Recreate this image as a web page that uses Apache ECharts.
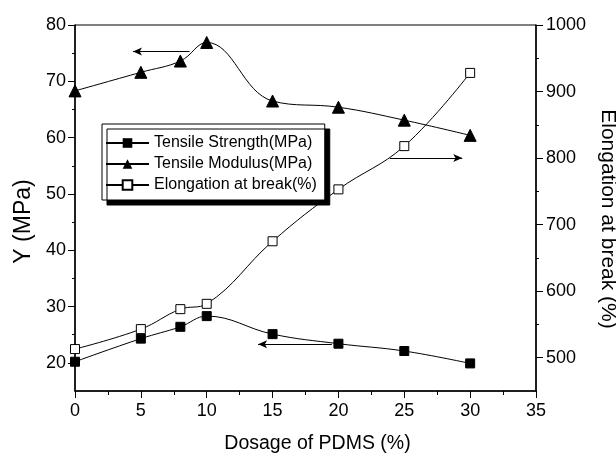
<!DOCTYPE html>
<html>
<head>
<meta charset="utf-8">
<script src="https://cdn.jsdelivr.net/npm/echarts@6/dist/echarts.min.js"></script>
<style>html,body{margin:0;padding:0;background:#fff}#c{width:616px;height:457px}</style>
</head>
<body>
<div id="c"></div>
<script>
const dosage = [0, 5, 8, 10, 15, 20, 25, 30];
const tensileStrength = [20.2, 24.3, 26.4, 28.3, 25.1, 23.4, 22.1, 19.9];
const tensileModulus = [68.3, 71.6, 73.6, 76.9, 66.5, 65.4, 63.1, 60.4];
const elongation = [513, 543, 573, 581, 675, 753, 818, 928];
const leftMajor = [20, 30, 40, 50, 60, 70, 80];
const leftMinor = [25, 35, 45, 55, 65, 75];
const rightMajor = [500, 600, 700, 800, 900, 1000];
const rightMinor = [550, 650, 750, 850, 950];
const seriesNames = ['Tensile Strength(MPa)', 'Tensile Modulus(MPa)', 'Elongation at break(%)'];
// annotation arrows [x1,y1] -> [x2,y2] (arrow head at second point)
const arrowModulus = [[8.7, 75.3], [4.4, 75.3]];
const arrowStrength = [[19.5, 23.3], [13.9, 23.3]];
const arrowElong = [[23.9, 800], [29.4, 800]];

const FONT = 'Liberation Sans, Arial, sans-serif';
const pair = a => a.map((v, i) => [dosage[i], v]);
const arrow = p => ({
  silent: true, symbol: ['none', 'arrow'], symbolSize: [6, 9],
  label: {show: false}, lineStyle: {color: '#000', width: 1, type: 'solid'},
  emphasis: {disabled: true},
  data: [[{coord: p[0]}, {coord: p[1]}]]
});
const lineStyle = {color: '#000', width: 1};

const chart = echarts.init(document.getElementById('c'));
chart.setOption({
  animation: false,
  backgroundColor: '#fff',
  grid: {left: 75, right: 80, top: 25, bottom: 66, containLabel: false, outerBoundsMode: 'none',
    show: true, borderColor: '#000', borderWidth: 1},
  legend: {
    orient: 'vertical', left: 102, top: 124,
    data: seriesNames,
    backgroundColor: '#fff', borderColor: '#000', borderWidth: 1,
    shadowColor: '#000', shadowOffsetX: 5, shadowOffsetY: 5, shadowBlur: 0,
    padding: [11, 8, 7, 3], itemGap: 5, itemWidth: 43, itemHeight: 12,
    textStyle: {fontFamily: FONT, fontSize: 16, color: '#000'}
  },
  xAxis: {
    type: 'value', min: 0, max: 35, interval: 5,
    name: 'Dosage of PDMS (%)', nameLocation: 'middle', nameGap: 43,
    nameTextStyle: {fontFamily: FONT, fontSize: 19.5, color: '#000', padding: [0, 0, 0, 24]},
    axisLine: {lineStyle: {color: '#000', width: 1.5}},
    axisTick: {length: 7, lineStyle: {color: '#000'}},
    minorTick: {show: true, splitNumber: 2, length: 4, lineStyle: {color: '#000'}},
    axisLabel: {fontFamily: FONT, fontSize: 18, color: '#000', margin: 11},
    splitLine: {show: false}
  },
  yAxis: [
    {
      type: 'value', position: 'left', min: 15, max: 80,
      name: 'Y (MPa)', nameLocation: 'middle', nameGap: 40, nameRotate: 90,
      nameTextStyle: {fontFamily: FONT, fontSize: 23, color: '#000', padding: [0, 27, 0, 0]},
      axisLine: {show: true, lineStyle: {color: '#000', width: 1.5}},
      axisTick: {show: true, length: 7, customValues: leftMajor, lineStyle: {color: '#000'}},
      axisLabel: {fontFamily: FONT, fontSize: 18, color: '#000', margin: 9, customValues: leftMajor},
      splitLine: {show: false}
    },
    {
      type: 'value', position: 'left', min: 15, max: 80,
      axisLine: {show: false},
      axisTick: {show: true, length: 3, customValues: leftMinor, lineStyle: {color: '#000'}},
      axisLabel: {show: false}, splitLine: {show: false}
    },
    {
      type: 'value', position: 'right', min: 450, max: 1000,
      name: 'Elongation at break (%)', nameLocation: 'middle', nameGap: 51, nameRotate: -90,
      nameTextStyle: {fontFamily: FONT, fontSize: 21, color: '#000', padding: [0, 0, 0, 22]},
      axisLine: {show: true, lineStyle: {color: '#000', width: 1.5}},
      axisTick: {show: true, length: 7, customValues: rightMajor, lineStyle: {color: '#000'}},
      axisLabel: {fontFamily: FONT, fontSize: 18, color: '#000', margin: 10, customValues: rightMajor,
        formatter: v => String(v)},
      splitLine: {show: false}
    },
    {
      type: 'value', position: 'right', min: 450, max: 1000,
      axisLine: {show: false},
      axisTick: {show: true, length: 3, customValues: rightMinor, lineStyle: {color: '#000'}},
      axisLabel: {show: false}, splitLine: {show: false}
    }
  ],
  series: [
    {
      name: seriesNames[0], type: 'line', yAxisIndex: 0, data: pair(tensileStrength),
      smooth: 0.4, symbol: 'rect', symbolSize: 9, lineStyle: lineStyle,
      itemStyle: {color: '#000', borderColor: '#000'}, markLine: arrow(arrowStrength)
    },
    {
      name: seriesNames[1], type: 'line', yAxisIndex: 0, data: pair(tensileModulus),
      smooth: 0.4, symbol: 'triangle', symbolSize: 12, lineStyle: lineStyle,
      itemStyle: {color: '#000', borderColor: '#000'}, markLine: arrow(arrowModulus)
    },
    {
      name: seriesNames[2], type: 'line', yAxisIndex: 2, data: pair(elongation),
      smooth: 0.4, symbol: 'rect', symbolSize: 9, lineStyle: lineStyle,
      itemStyle: {color: '#fff', borderColor: '#000', borderWidth: 1}, markLine: arrow(arrowElong)
    }
  ]
});
</script>
</body>
</html>
